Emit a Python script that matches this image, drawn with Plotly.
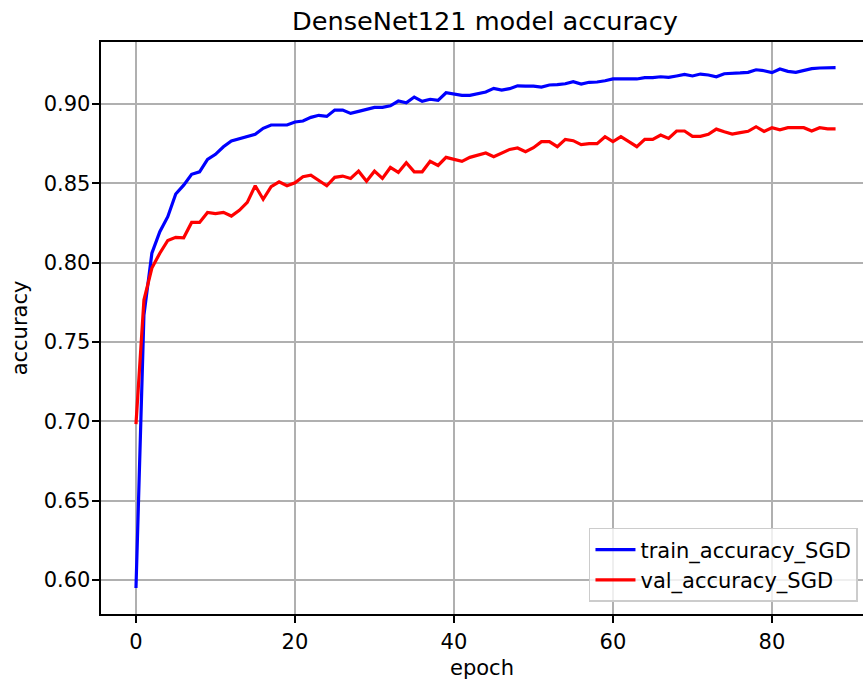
import plotly.graph_objects as go

epochs = list(range(89))

train_accuracy_SGD = [
    0.595, 0.767, 0.806, 0.8195, 0.829, 0.8433, 0.8489, 0.8557, 0.8573, 0.8651,
    0.8683, 0.8731, 0.8767, 0.8781, 0.879, 0.8809, 0.8847, 0.8868, 0.8868, 0.8868,
    0.8887, 0.8893, 0.8916, 0.8929, 0.8922, 0.8962, 0.8962, 0.8941, 0.8954, 0.8964,
    0.8979, 0.8979, 0.8989, 0.9019, 0.9008, 0.9044, 0.9017, 0.903, 0.9023, 0.9071,
    0.9061, 0.9055, 0.9055, 0.9063, 0.9076, 0.9099, 0.9088, 0.9097, 0.9115, 0.9113,
    0.9113, 0.9107, 0.912, 0.9122, 0.9128, 0.9141, 0.9126, 0.9137, 0.9139, 0.9147,
    0.9158, 0.9158, 0.916, 0.9158, 0.9166, 0.9166, 0.9172, 0.9168, 0.9177, 0.9187,
    0.9177, 0.9189, 0.9183, 0.9172, 0.9191, 0.9196, 0.9196, 0.92, 0.9216, 0.921,
    0.9198, 0.9221, 0.9206, 0.92, 0.9214, 0.9223, 0.9227, 0.9227, 0.9229,
]

val_accuracy_SGD = [
    0.6983, 0.7765, 0.7966, 0.806, 0.814, 0.816, 0.8157, 0.8254, 0.8254, 0.8317,
    0.831, 0.8317, 0.8294, 0.833, 0.838, 0.8485, 0.840, 0.8479, 0.851, 0.8485,
    0.8504, 0.8542, 0.8552, 0.8516, 0.8485, 0.8538, 0.8546, 0.8531, 0.8577, 0.8514,
    0.8577, 0.8531, 0.86, 0.8569, 0.863, 0.8573, 0.8573, 0.8639, 0.8613, 0.8664,
    0.8653, 0.8639, 0.8664, 0.8678, 0.8691, 0.8668, 0.8689, 0.8714, 0.8723, 0.87,
    0.8725, 0.8763, 0.8763, 0.8731, 0.8777, 0.8769, 0.8744, 0.875, 0.875, 0.8794,
    0.8763, 0.8794, 0.8763, 0.8731, 0.8777, 0.8777, 0.8805, 0.8783, 0.883, 0.883,
    0.8796, 0.8796, 0.8809, 0.8842, 0.8825, 0.8811, 0.882, 0.8828, 0.8857, 0.8828,
    0.8851, 0.8838, 0.8851, 0.8851, 0.8851, 0.883, 0.8851, 0.8844, 0.8844,
]

x_ticks = [0, 20, 40, 60, 80]
y_ticks = [0.60, 0.65, 0.70, 0.75, 0.80, 0.85, 0.90]
y_tick_labels = ["0.60", "0.65", "0.70", "0.75", "0.80", "0.85", "0.90"]

FONT = "DejaVu Sans"
TICK_SIZE = 21

fig = go.Figure()
fig.add_trace(go.Scatter(x=epochs, y=train_accuracy_SGD, mode="lines",
                         name="train_accuracy_SGD",
                         line=dict(color="#0000ff", width=3.2)))
fig.add_trace(go.Scatter(x=epochs, y=val_accuracy_SGD, mode="lines",
                         name="val_accuracy_SGD",
                         line=dict(color="#ff0000", width=3.2)))

axis_common = dict(
    showgrid=True, gridcolor="#b0b0b0", gridwidth=1.7,
    showline=True, linecolor="black", linewidth=1.7,
    ticks="outside", ticklen=7.5, tickwidth=1.7, tickcolor="black",
    zeroline=False, automargin=False,
    tickfont=dict(family=FONT, size=TICK_SIZE, color="black"),
)

fig.update_layout(
    width=863, height=688,
    margin=dict(l=101, r=0, t=42, b=74, pad=0),
    paper_bgcolor="white", plot_bgcolor="white",
    font=dict(family=FONT, color="black"),
    title=dict(text="DenseNet121 model accuracy",
               font=dict(family=FONT, size=25.6, color="black"),
               xref="container", x=485 / 863, xanchor="center",
               yref="container", y=1 - 21 / 688, yanchor="middle"),
    xaxis=dict(range=[-4.4, 91.45], tickvals=x_ticks, mirror=True,
               title=dict(text="epoch", font=dict(family=FONT, size=TICK_SIZE, color="black"),
                          standoff=8),
               **axis_common),
    yaxis=dict(range=[0.5786, 0.9391], tickvals=y_ticks, ticktext=y_tick_labels,
               mirror=False, ticklabelstandoff=-3,
               title=dict(text="accuracy", font=dict(family=FONT, size=TICK_SIZE, color="black"),
                          standoff=10),
               **axis_common),
    legend=dict(x=0.9934, y=0.021, xanchor="right", yanchor="bottom",
                bgcolor="rgba(255,255,255,0.8)", bordercolor="#cccccc", borderwidth=1.5,
                font=dict(family=FONT, size=TICK_SIZE, color="black"),
                itemwidth=40),
)

fig.write_html("out.html",
               config={"displayModeBar": False},
               post_script="document.body.style.margin='0';document.body.style.overflow='hidden';")
